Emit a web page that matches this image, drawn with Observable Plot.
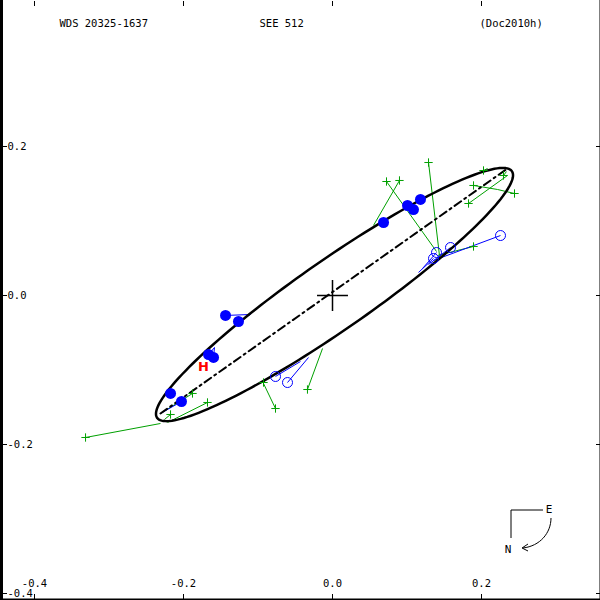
<!DOCTYPE html>
<html><head><meta charset="utf-8">
<script src="https://cdn.jsdelivr.net/npm/d3@7"></script>
<script src="https://cdn.jsdelivr.net/npm/@observablehq/plot@0.6"></script>
<style>
html,body{margin:0;padding:0;background:#fff;}
#chart{position:relative;width:600px;height:600px;}
svg{display:block;}
</style></head>
<body><div id="chart"></div>
<script>
// Title strings
const titleLeft = "WDS 20325-1637";
const titleMid = "SEE 512";
const titleRight = "(Doc2010h)";

// Axis ticks
const xTicks = [-0.4, -0.2, 0.0, 0.2];
const xTickLabels = ["-0.4", "-0.2", "0.0", "0.2"];
const yTicks = [0.2, 0.0, -0.2, -0.4];
const yTickLabels = ["0.2", "0.0", "-0.2", "-0.4"];

// Apparent orbit ellipse: centre x, centre y, semi-major, semi-minor, tilt (deg)
const orbitCentre = [0.0027, 0.0013];
const orbitAxes = [0.290, 0.047];
const orbitTilt = [34.8];

// Line of apsides (ends)
const apsX = [-0.2309, 0.2349];
const apsY = [-0.1584, 0.1705];

// Green crosses (visual micrometer) and their orbit positions
const grnX = [-0.3315,-0.1678,-0.1879,-0.2174,-0.0926,-0.0765,-0.0336,0.0725,0.0899,0.1289,0.1893,0.2443,0.1826,0.2295,0.2027,0.1893];
const grnY = [-0.1906,-0.1436,-0.1315,-0.1597,-0.1168,-0.1517,-0.1262,0.1530,0.1544,0.1785,0.1477,0.1369,0.1235,0.1611,0.1678,0.0658];
const grnOX = [-0.2309,-0.2215,-0.2309,-0.2255,-0.0899,-0.0926,-0.0134,0.1396,0.0550,0.1436,0.2215,0.2215,0.2349,0.2336,0.2081,0.1409];
const grnOY = [-0.1718,-0.1705,-0.1584,-0.1664,-0.1141,-0.1181,-0.0711,0.0591,0.0940,0.0537,0.1423,0.1423,0.1611,0.1664,0.1705,0.0537];

// Blue filled dots and their orbit positions
const bfX = [0.0685,0.1007,0.1087,0.1181,-0.1436,-0.1262,-0.1664,-0.1597,-0.2174,-0.2027];
const bfY = [0.0980,0.1208,0.1154,0.1289,-0.0268,-0.0349,-0.0792,-0.0832,-0.1315,-0.1423];
const bfOX = [0.0711,0.0980,0.1047,0.1154,-0.1101,-0.1101,-0.1584,-0.1584,-0.2201,-0.2309];
const bfOY = [0.1007,0.1195,0.1181,0.1275,-0.0255,-0.0255,-0.0698,-0.0698,-0.1369,-0.1584];

// Blue open circles and their orbit positions
const boX = [0.2255,0.1584,0.1396,0.1356,-0.0765,-0.0604];
const boY = [0.0805,0.0644,0.0577,0.0497,-0.1087,-0.1168];
const boOX = [0.1356,0.1289,0.1208,0.1154,-0.0430,-0.0322];
const boOY = [0.0470,0.0416,0.0362,0.0309,-0.0886,-0.0832];

// Hipparcos point
const hipX = [-0.1732];
const hipY = [-0.0953];

// Primary star
const primX = [0];
const primY = [0];

const idx = a => a.map((_, i) => i);
// trace the ellipse outline from its read-off elements
const th = orbitTilt[0] * Math.PI / 180;
const orbit = d3.range(0, 361, 2).map(deg => {
  const t = deg * Math.PI / 180;
  const ca = orbitAxes[0] * Math.cos(t), sb = orbitAxes[1] * Math.sin(t);
  return {x: orbitCentre[0] + ca * Math.cos(th) - sb * Math.sin(th),
          y: orbitCentre[1] + ca * Math.sin(th) + sb * Math.cos(th)};
});
const aps = apsX.map((x, i) => ({x, y: apsY[i]}));
const grn = idx(grnX).map(i => ({x: grnX[i], y: grnY[i], ox: grnOX[i], oy: grnOY[i]}));
const bf = idx(bfX).map(i => ({x: bfX[i], y: bfY[i], ox: bfOX[i], oy: bfOY[i]}));
const bo = idx(boX).map(i => ({x: boX[i], y: boY[i], ox: boOX[i], oy: boOY[i]}));

const FONT = "DejaVu Sans Mono";
const GREEN = "#00a000", BLUE = "#0000ff";

const plot = Plot.plot({
  width: 600, height: 600,
  marginLeft: 0, marginRight: 0, marginTop: 0, marginBottom: 0,
  style: {fontFamily: FONT, fontSize: "10px", background: "#fff", color: "#000", overflow: "visible"},
  x: {domain: [-332/745, 268/745], axis: null},
  y: {domain: [-305/745, 295/745], axis: null},
  marks: [
    // frame edges
    Plot.frame({anchor: "left", stroke: "#000", strokeWidth: 5}),
    Plot.frame({anchor: "right", stroke: "#000", strokeWidth: 2}),
    Plot.frame({anchor: "bottom", stroke: "#000", strokeWidth: 4}),
    // axis ticks (inward)
    Plot.axisX({ticks: xTicks, anchor: "bottom", tickSize: -6, tickFormat: () => "", label: null}),
    Plot.axisX({ticks: xTicks, anchor: "top", tickSize: -5, tickFormat: () => "", label: null}),
    Plot.axisY({ticks: yTicks, anchor: "left", tickSize: -7, tickFormat: () => "", label: null}),
    Plot.axisY({ticks: yTicks, anchor: "right", tickSize: -5, tickFormat: () => "", label: null}),
    // tick labels
    Plot.text(xTicks, {x: d => d, frameAnchor: "bottom", dy: -14, text: (d, i) => xTickLabels[i], fill: "#000", fontSize: 10.5}),
    Plot.text(yTicks, {y: d => d, frameAnchor: "left", dx: 7, textAnchor: "start", text: (d, i) => yTickLabels[i], fill: "#000", fontSize: 10.5}),
    // titles
    Plot.text([titleLeft], {frameAnchor: "top-left", dx: 59, dy: 19, textAnchor: "start", text: d => d, fill: "#000", fontSize: 10.5}),
    Plot.text([titleMid], {frameAnchor: "top-left", dx: 259, dy: 19, textAnchor: "start", text: d => d, fill: "#000", fontSize: 10.5}),
    Plot.text([titleRight], {frameAnchor: "top-left", dx: 479, dy: 19, textAnchor: "start", text: d => d, fill: "#000", fontSize: 10.5}),
    // O-C lines
    Plot.link(grn, {x1: "x", y1: "y", x2: "ox", y2: "oy", stroke: GREEN, strokeWidth: 1}),
    Plot.link(bf, {x1: "x", y1: "y", x2: "ox", y2: "oy", stroke: BLUE, strokeWidth: 1}),
    Plot.link(bo, {x1: "x", y1: "y", x2: "ox", y2: "oy", stroke: BLUE, strokeWidth: 1}),
    // orbit
    Plot.line(orbit, {x: "x", y: "y", stroke: "#000", strokeWidth: 2.5}),
    // line of apsides
    Plot.line(aps, {x: "x", y: "y", stroke: "#000", strokeWidth: 2, strokeDasharray: "8,4,2,4"}),
    // observations
    Plot.dot(grn, {x: "x", y: "y", symbol: "plus", r: 2.8, stroke: GREEN, strokeWidth: 1}),
    Plot.dot(bo, {x: "x", y: "y", r: 5, stroke: BLUE, fill: "none", strokeWidth: 1}),
    Plot.dot(bf, {x: "x", y: "y", r: 5.5, fill: BLUE, stroke: "none"}),
    Plot.text(hipX, {x: d => d, y: (d, i) => hipY[i], text: () => "H", fill: "#ff0000", fontWeight: "bold", fontSize: 13, fontFamily: "DejaVu Sans"}),
    // primary
    Plot.dot(primX, {x: d => d, y: (d, i) => primY[i], symbol: "plus", r: 10, stroke: "#000", strokeWidth: 1.5})
  ]
});
document.getElementById("chart").appendChild(plot);

// compass (orientation indicator), bottom-right
const svg = d3.select(plot);
const g = svg.append("g").attr("fill", "none").attr("stroke", "#000").attr("stroke-width", 1);
g.append("path").attr("d", "M543,510 H511 V538");
g.append("path").attr("d", "M551,518 C551,533 540,546 523,548");
g.append("path").attr("d", "M528,544 L522,548 L528,551");
svg.append("text").attr("x", 549).attr("y", 509).attr("text-anchor", "middle").attr("dy", "0.35em")
  .attr("fill", "#000").attr("font-family", FONT).attr("font-size", 11).text("E");
svg.append("text").attr("x", 508).attr("y", 549).attr("text-anchor", "middle").attr("dy", "0.35em")
  .attr("fill", "#000").attr("font-family", FONT).attr("font-size", 11).text("N");
</script>
</body></html>
